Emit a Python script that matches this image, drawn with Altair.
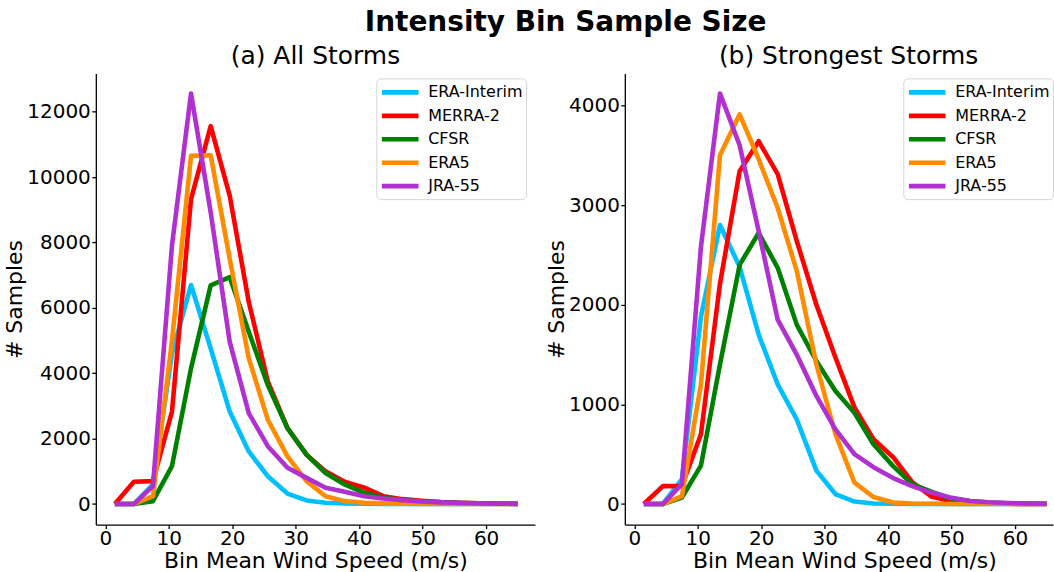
import altair as alt
import pandas as pd

# ---- data ----
wind = [1.5, 4.5, 7.5, 10.5, 13.5, 16.6, 19.6, 22.6, 25.6, 28.7, 31.7,
        34.7, 37.7, 40.8, 43.8, 46.8, 49.8, 52.9, 55.9, 58.9, 61.9, 65.0]

series = ["ERA-Interim", "MERRA-2", "CFSR", "ERA5", "JRA-55"]
colors = ["#00BFFF", "#FF0000", "#008000", "#FF8C00", "#B030D0"]

all_era_interim = [0, 0, 600, 4600, 6700, 4760, 2830, 1610, 850, 320, 110, 40, 20, 10, 5, 3, 2, 1, 0, 0, 0, 0]
all_merra2 = [0, 680, 700, 2830, 9330, 11560, 9430, 6180, 3750, 2320, 1510, 1000, 680, 500, 240, 150, 100, 60, 40, 25, 15, 10]
all_cfsr = [0, 0, 90, 1160, 4150, 6690, 6940, 5270, 3640, 2320, 1510, 950, 600, 345, 190, 120, 80, 50, 30, 20, 10, 5]
all_era5 = [0, 0, 240, 5000, 10650, 10670, 7500, 4460, 2580, 1460, 700, 240, 90, 40, 20, 10, 5, 3, 2, 1, 0, 0]
all_jra55 = [0, 0, 550, 7910, 12560, 8920, 4960, 2780, 1770, 1110, 800, 500, 375, 240, 170, 120, 80, 50, 30, 20, 10, 5]

strong_era_interim = [0, 0, 250, 1880, 2800, 2380, 1700, 1200, 850, 335, 100, 25, 5, 2, 0, 0, 0, 0, 0, 0, 0, 0]
strong_merra2 = [0, 180, 180, 700, 2210, 3340, 3640, 3310, 2640, 2000, 1470, 970, 650, 470, 220, 75, 30, 10, 5, 2, 1, 0]
strong_cfsr = [0, 0, 65, 385, 1400, 2400, 2720, 2370, 1800, 1435, 1135, 915, 600, 380, 200, 125, 57, 30, 15, 8, 5, 3]
strong_era5 = [0, 0, 80, 1200, 3500, 3910, 3460, 2970, 2340, 1400, 700, 215, 70, 15, 5, 2, 0, 0, 0, 0, 0, 0]
strong_jra55 = [0, 0, 200, 2580, 4120, 3600, 2740, 1850, 1500, 1085, 750, 500, 370, 260, 180, 115, 65, 30, 17, 10, 5, 3]

all_vals = [all_era_interim, all_merra2, all_cfsr, all_era5, all_jra55]
strong_vals = [strong_era_interim, strong_merra2, strong_cfsr, strong_era5, strong_jra55]

FONT = "DejaVu Sans"


def make_df(vals):
    rows = []
    for name, ys in zip(series, vals):
        for x, y in zip(wind, ys):
            rows.append({"wind": x, "n": y, "dataset": name})
    return pd.DataFrame(rows)


def panel(vals, title, ydomain, yticks, width, xdomain, title_dx, xtitle_x, legend_x):
    df = make_df(vals)
    base = alt.Chart(df)
    legend = alt.Legend(
        title=None, orient="none", legendX=legend_x, legendY=5,
        symbolType="M-1,0L3.385,0", symbolSize=280, symbolStrokeWidth=4.7,
        labelFontSize=16, labelFont=FONT, labelColor="black", labelOffset=27,
        rowPadding=2.5, padding=3, strokeColor="#d6d6d6", fillColor="white",
        cornerRadius=4,
    )
    layers = []
    for name in series:
        layers.append(
            base.transform_filter(alt.datum.dataset == name)
            .mark_line(strokeWidth=4.6, strokeJoin="round")
            .encode(
                x=alt.X("wind:Q",
                        scale=alt.Scale(domain=xdomain, nice=False, zero=False),
                        axis=alt.Axis(values=[0, 10, 20, 30, 40, 50, 60], format="d",
                                      title="Bin Mean Wind Speed (m/s)",
                                      titleX=xtitle_x, titlePadding=2,
                                      labelPadding=0, labelFontSize=20,
                                      titleFontSize=22)),
                y=alt.Y("n:Q",
                        scale=alt.Scale(domain=ydomain, nice=False, zero=False),
                        axis=alt.Axis(values=yticks, format="d", title="# Samples",
                                      titlePadding=0, labelPadding=1.5,
                                      labelFontSize=20, titleFontSize=22)),
                color=alt.Color("dataset:N",
                                scale=alt.Scale(domain=series, range=colors),
                                legend=legend),
            )
        )
    return alt.layer(*layers).properties(
        width=width, height=452,
        title=alt.TitleParams(title, fontSize=25, font=FONT, fontWeight="normal",
                              anchor="middle", dx=title_dx, offset=4, color="black"),
    )


left = panel(all_vals, "(a) All Storms", [-627, 13174],
             [0, 2000, 4000, 6000, 8000, 10000, 12000], 440, [-1.5, 67.7], 0, 220, 281)
right = panel(strong_vals, "(b) Strongest Storms", [-206, 4321],
              [0, 1000, 2000, 3000, 4000], 429, [-1.5, 66.0], 9.7, 220, 279)

chart = (
    alt.hconcat(left, right, spacing=10)
    .resolve_scale(x="independent", y="independent", color="independent")
    .resolve_legend(color="independent")
    .properties(
        title=alt.TitleParams("Intensity Bin Sample Size", fontSize=28, font=FONT,
                              fontWeight="bold", anchor="middle", dx=37, offset=7,
                              color="black"),
        padding={"left": 3, "top": 9, "right": 0, "bottom": 0},
    )
    .configure_view(stroke=None)
    .configure_axis(
        domainColor="black", domainWidth=1.3, tickColor="black", tickWidth=1.3,
        tickSize=4, labelFontSize=20, labelFont=FONT, labelColor="black",
        titleFont=FONT, titleFontSize=22, titleFontWeight="normal",
        titleColor="black", grid=False,
    )
)

chart.save("out.html", embed_options={"renderer": "svg", "actions": False})
